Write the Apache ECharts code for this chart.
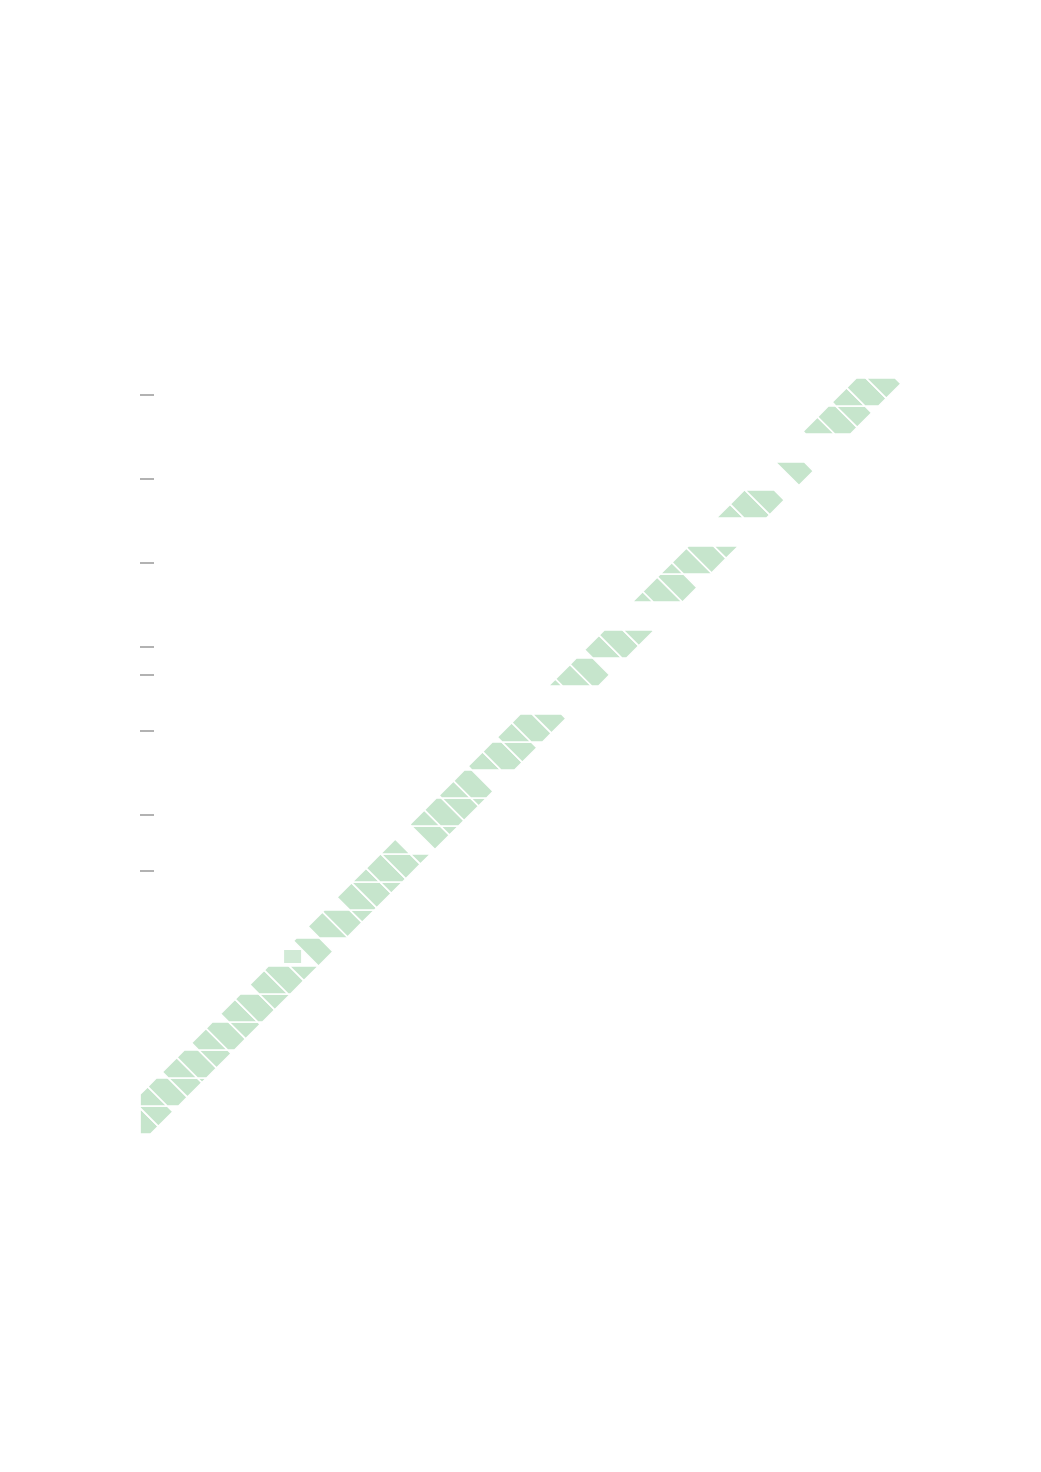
<!DOCTYPE html>
<html><head><meta charset="utf-8">
<script src="https://cdn.jsdelivr.net/npm/echarts@6/dist/echarts.min.js"></script>
<style>html,body{margin:0;padding:0;background:#fff}#chart{width:1041px;height:1472px}</style>
</head><body><div id="chart"></div>
<script>
// Visible spans of the diagonal tiled band, per row band (row 0 = bottom), in x-axis units
const spanRow   = [0,    1,    2,    3,    4,    5,    6,    7,    8,    9,     10,   10,   11,    12,    13,    14,    16,    17,    19,    20,    22,    23,   23,   25,    26];
const spanStart = [-0.5, -0.5, 0.96, 1.96, 2.93, 4.04, 6.0,  6.0,  7.07, 7.93,  8.7,  10.2, 9.71,  10.96, 12.07, 12.96, 14.54, 15.89, 17.86, 18.6,  21.07, 22.0, 23.1, 23.86, 24.93];
const spanEnd   = [1.0,  2.25, 3.04, 3.93, 5.07, 6.0,  6.45, 8.04, 9.04, 10.07, 9.7,  11.2, 12.14, 12.61, 13.75, 15.0,  16.43, 17.96, 19.39, 20.96, 22.79, 22.5, 23.7, 25.79, 27.04];
const tickValues = [26.39, 23.39, 20.39, 17.39, 16.39, 14.39, 11.39, 9.39];
const boxX = [5.45];
const boxY = [6.34];

const GREEN = '#c6e5cc';
const ACROSS_CENTER = -0.52;   // band centre line (u - v)
const ACROSS_HALF = 0.9;       // half width of the band (u - v)
const ALONG_START = 1.45, ALONG_STEP = 1.04, ALONG_HALF = 0.52; // tile layout along the band (u + v)

function clipHalf(poly, f) {
  const out = [];
  for (let i = 0; i < poly.length; i++) {
    const p = poly[i], q = poly[(i + 1) % poly.length];
    const fp = f(p), fq = f(q);
    if (fp >= 0) out.push(p);
    if ((fp >= 0) !== (fq >= 0)) {
      const t = fp / (fp - fq);
      out.push([p[0] + t * (q[0] - p[0]), p[1] + t * (q[1] - p[1])]);
    }
  }
  return out;
}
const toUV = (S, D) => [(S + D) / 2, (S - D) / 2];

function renderItem(params, api) {
  const r = api.value(0), a = api.value(1), b = api.value(2);
  const children = [];
  const D0 = ACROSS_CENTER - ACROSS_HALF, D1 = ACROSS_CENTER + ACROSS_HALF;
  for (let k = -3; k < 70; k++) {
    const S = ALONG_START + ALONG_STEP * k;
    const S0 = S - ALONG_HALF, S1 = S + ALONG_HALF;
    let poly = [toUV(S0, D0), toUV(S1, D0), toUV(S1, D1), toUV(S0, D1)];
    poly = clipHalf(poly, p => p[1] - r);
    poly = clipHalf(poly, p => r + 1 - p[1]);
    poly = clipHalf(poly, p => p[0]);
    if (poly.length < 3) continue;
    const cu = poly.reduce((s, p) => s + p[0], 0) / poly.length;
    if (cu < a || cu > b) continue;
    children.push({
      type: 'polygon',
      shape: { points: poly.map(p => api.coord(p)) },
      style: { fill: GREEN, stroke: '#fff', lineWidth: 1.7 }
    });
  }
  return { type: 'group', children };
}

const chart = echarts.init(document.getElementById('chart'), null, { renderer: 'canvas' });
chart.setOption({
  backgroundColor: '#fff',
  animation: false,
  grid: { left: 140, right: 138, top: 322, bottom: 338 },
  xAxis: { type: 'value', min: 0, max: 27.25, show: false },
  yAxis: {
    type: 'value', min: 0, max: 29,
    axisLine: { show: false }, axisLabel: { show: false }, splitLine: { show: false },
    axisTick: { show: true, inside: true, length: 14, customValues: tickValues, lineStyle: { color: '#999', width: 1.5 } }
  },
  series: [
    {
      type: 'custom', renderItem, clip: true,
      data: spanRow.map((r, i) => [r, spanStart[i], spanEnd[i]])
    },
    {
      type: 'scatter', symbol: 'rect', symbolSize: [17, 13],
      itemStyle: { color: GREEN },
      data: boxX.map((x, i) => [x, boxY[i]])
    }
  ]
});
</script></body></html>
